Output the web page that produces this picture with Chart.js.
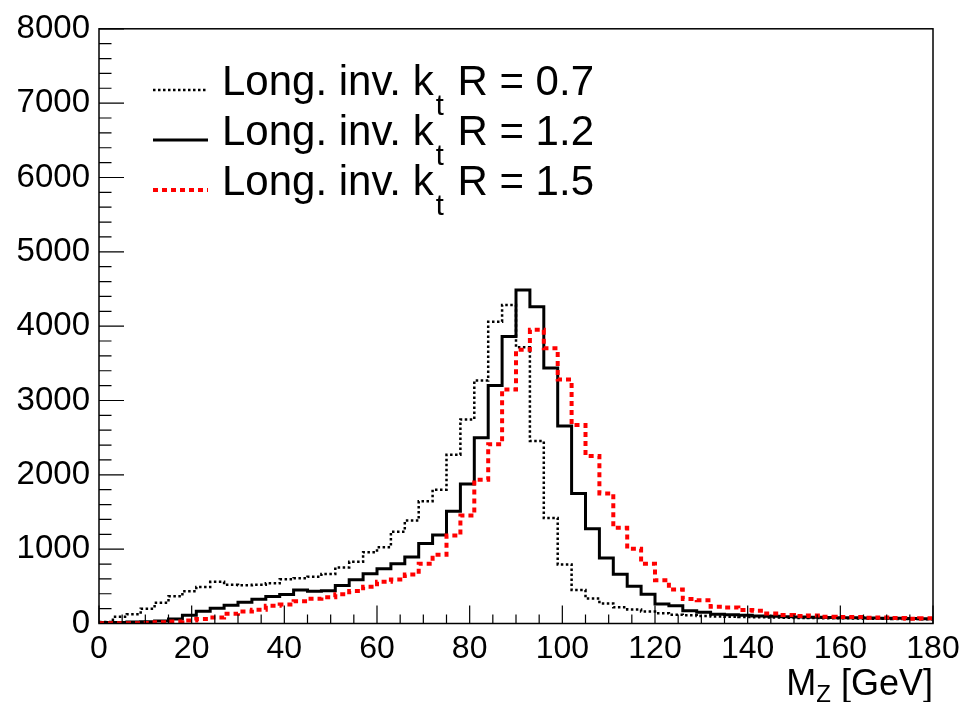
<!DOCTYPE html>
<html>
<head>
<meta charset="utf-8">
<title>M_Z distribution, long. inv. kt jets</title>
<script src="https://cdn.jsdelivr.net/npm/chart.js@4.4.1/dist/chart.umd.min.js"></script>
<style>
  html, body { margin: 0; padding: 0; background: #fff; }
</style>
</head>
<body>
<canvas id="mzChart" width="966" height="702"></canvas>
<script>
// histogram binning: 60 bins of 3 GeV between 0 and 180 GeV
const binWidth = 3;
const xMin = 0;
const xMax = 180;

// tick labels
const xTickValues = [0, 20, 40, 60, 80, 100, 120, 140, 160, 180];
const yTickValues = [0, 1000, 2000, 3000, 4000, 5000, 6000, 7000, 8000];

// legend text
const jetRadii = ['0.7', '1.2', '1.5'];

// entries per bin
const countsR07 = [
  20, 90, 125, 200, 280, 365, 435, 490, 560, 520,
  515, 520, 540, 595, 610, 630, 665, 755, 830, 960,
  1025, 1235, 1385, 1645, 1800, 2270, 2745, 3270, 4060, 4285,
  3715, 2455, 1420, 795, 450, 337, 270, 218, 190, 160,
  138, 118, 112, 102, 95, 90, 86, 83, 80, 78,
  75, 73, 71, 69, 67, 65, 63, 61, 59, 57
];
const countsR12 = [
  12, 15, 20, 25, 35, 60, 110, 165, 205, 245,
  285, 325, 362, 390, 450, 435, 440, 512, 590, 668,
  736, 803, 895, 1075, 1190, 1510, 1875, 2500, 3200, 3860,
  4485, 4262, 3436, 2656, 1750, 1274, 882, 662, 500, 393,
  262, 240, 172, 150, 124, 118, 112, 100, 96, 91,
  87, 83, 82, 78, 77, 74, 72, 70, 68, 65
];
const countsR15 = [
  5, 5, 5, 8, 18, 28, 42, 60, 80, 132,
  160, 186, 240, 255, 300, 334, 352, 392, 437, 495,
  562, 593, 660, 803, 926, 1184, 1452, 1933, 2411, 3147,
  3682, 3950, 3704, 3281, 2669, 2254, 1750, 1287, 1006, 805,
  582, 457, 328, 314, 225, 216, 180, 172, 136, 114,
  100, 109, 91, 87, 87, 78, 82, 73, 64, 69
];

// step points at the low edge of each bin, plus the upper edge of the last bin
function toSteps(counts) {
  const pts = counts.map((v, i) => ({ x: xMin + i * binWidth, y: v }));
  pts.push({ x: xMin + counts.length * binWidth, y: counts[counts.length - 1] });
  return pts;
}

const FONT = "'Liberation Sans', Arial, Helvetica, sans-serif";

// frame, inward ticks, legend and x title, drawn the ROOT way
const rootDecor = {
  id: 'rootDecor',
  afterDatasetsDraw(chart) {
    const { ctx, chartArea: a, scales: { x, y } } = chart;
    ctx.save();
    ctx.strokeStyle = '#000';
    ctx.lineWidth = 1.5;
    ctx.strokeRect(a.left, a.top, a.right - a.left, a.bottom - a.top);

    ctx.lineWidth = 1.2;
    ctx.beginPath();
    for (let v = xMin; v <= xMax; v += 5) {
      const px = x.getPixelForValue(v);
      const len = v % 20 === 0 ? 18 : 9;
      ctx.moveTo(px, a.bottom);
      ctx.lineTo(px, a.bottom - len);
    }
    for (let v = 0; v <= 8000; v += 200) {
      const py = y.getPixelForValue(v);
      const len = v % 1000 === 0 ? 25 : 12.5;
      ctx.moveTo(a.left, py);
      ctx.lineTo(a.left + len, py);
    }
    ctx.stroke();

    // legend
    ctx.fillStyle = '#000';
    ctx.textBaseline = 'alphabetic';
    chart.data.datasets.forEach((ds, i) => {
      const base = 95 + i * 50;
      ctx.save();
      ctx.strokeStyle = ds.borderColor;
      ctx.lineWidth = ds.borderWidth;
      ctx.setLineDash(ds.borderDash || []);
      ctx.beginPath();
      ctx.moveTo(153, base - 5);
      ctx.lineTo(208, base - 5);
      ctx.stroke();
      ctx.restore();

      let tx = 222;
      ctx.font = '42px ' + FONT;
      ctx.fillText('Long. inv. k', tx, base);
      tx += ctx.measureText('Long. inv. k').width + 2;
      ctx.font = '29px ' + FONT;
      ctx.fillText('t', tx, base + 20);
      tx += ctx.measureText('t').width + 2;
      ctx.font = '42px ' + FONT;
      ctx.fillText(' R = ' + jetRadii[i], tx, base);
    });

    // x axis title, right aligned to the frame
    const big = '36px ' + FONT, small = '24px ' + FONT;
    ctx.font = big;
    const wM = ctx.measureText('M').width;
    const wRest = ctx.measureText(' [GeV]').width;
    ctx.font = small;
    const wZ = ctx.measureText('Z').width;
    let sx = a.right - (wM + wZ + wRest);
    ctx.font = big;
    ctx.fillText('M', sx, 695);
    ctx.font = small;
    ctx.fillText('Z', sx + wM, 702);
    ctx.font = big;
    ctx.fillText(' [GeV]', sx + wM + wZ, 695);
    ctx.restore();
  }
};

const ctx = document.getElementById('mzChart').getContext('2d');
new Chart(ctx, {
  type: 'line',
  data: {
    datasets: [
      {
        label: 'R = 0.7',
        data: toSteps(countsR07),
        borderColor: '#000',
        borderWidth: 2.5,
        borderDash: [2.5, 2.5],
        order: 3
      },
      {
        label: 'R = 1.2',
        data: toSteps(countsR12),
        borderColor: '#000',
        borderWidth: 3,
        order: 2
      },
      {
        label: 'R = 1.5',
        data: toSteps(countsR15),
        borderColor: '#ff0000',
        borderWidth: 4,
        borderDash: [5, 4],
        order: 1
      }
    ]
  },
  options: {
    responsive: false,
    animation: false,
    elements: {
      point: { radius: 0 },
      line: { stepped: 'before', tension: 0, fill: false }
    },
    layout: { padding: { left: 0, right: 33, top: 25, bottom: 0 } },
    plugins: { legend: { display: false }, tooltip: { enabled: false } },
    scales: {
      x: {
        type: 'linear',
        min: xMin,
        max: xMax,
        grid: { display: false, drawTicks: false },
        border: { display: false },
        afterBuildTicks: s => { s.ticks = xTickValues.map(v => ({ value: v })); },
        afterFit: s => { s.height = 78.5; },
        ticks: {
          color: '#000', padding: 6, maxRotation: 0,
          font: { family: FONT, size: 32 },
          callback: v => String(v)
        }
      },
      y: {
        type: 'linear',
        min: 0,
        max: 8000,
        grid: { display: false, drawTicks: false },
        border: { display: false },
        afterBuildTicks: s => { s.ticks = yTickValues.map(v => ({ value: v })); },
        afterFit: s => { s.width = 99; },
        ticks: {
          color: '#000', padding: 9,
          font: { family: FONT, size: 33 },
          callback: v => String(v)
        }
      }
    }
  },
  plugins: [rootDecor]
});
</script>
</body>
</html>
